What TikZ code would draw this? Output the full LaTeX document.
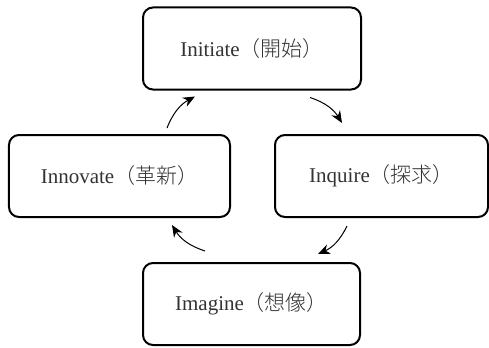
\documentclass[tikz,border=0pt]{standalone}
\usepackage{fontspec}
\setmainfont{Liberation Serif}
\newfontfamily\cjk{Noto Sans CJK JP}[UprightFont=* Light]
\usetikzlibrary{arrows.meta}

\begin{document}
\begin{tikzpicture}[x = 1bp, y = 1bp,
  stagebox/.style = {draw, line width = 2bp, rounded corners = 10bp,
    minimum width = 218bp, minimum height = 82bp, inner sep = 0pt,
    text = black!80, font = \fontsize{21bp}{25bp}\selectfont},
  cycleflow/.style = {-{Stealth[length = 12bp, width = 10bp]}, line width = 1bp, bend left = 20}]
\useasboundingbox (0, 0) rectangle (489, 347);
\node[stagebox] (initiate) at (252, 298.5) {Initiate\cjk（開始）};
\node[stagebox, minimum width = 221bp] (innovate) at (119.5, 171) {Innovate\cjk（革新）};
\node[stagebox, minimum width = 213bp] (inquire) at (381.5, 171) {Inquire\cjk（探求）};
\node[stagebox, minimum width = 217bp] (imagine) at (251.5, 43) {Imagine\cjk（想像）};
% arrows round the cycle
\draw[cycleflow] ([xshift = 47.5bp, yshift = 6bp]innovate.north) to ([xshift = -57bp, yshift = -6bp]initiate.south);
\draw[cycleflow] ([xshift = 58bp, yshift = -7bp]initiate.south) to ([xshift = -39.5bp, yshift = 11bp]inquire.north);
\draw[cycleflow] ([xshift = -34.5bp, yshift = -8bp]inquire.south) to ([xshift = 66.5bp, yshift = 8bp]imagine.north);
\draw[cycleflow] ([xshift = -46.5bp, yshift = 11bp]imagine.north) to ([xshift = 52.5bp, yshift = -7bp]innovate.south);
\end{tikzpicture}
\end{document}
